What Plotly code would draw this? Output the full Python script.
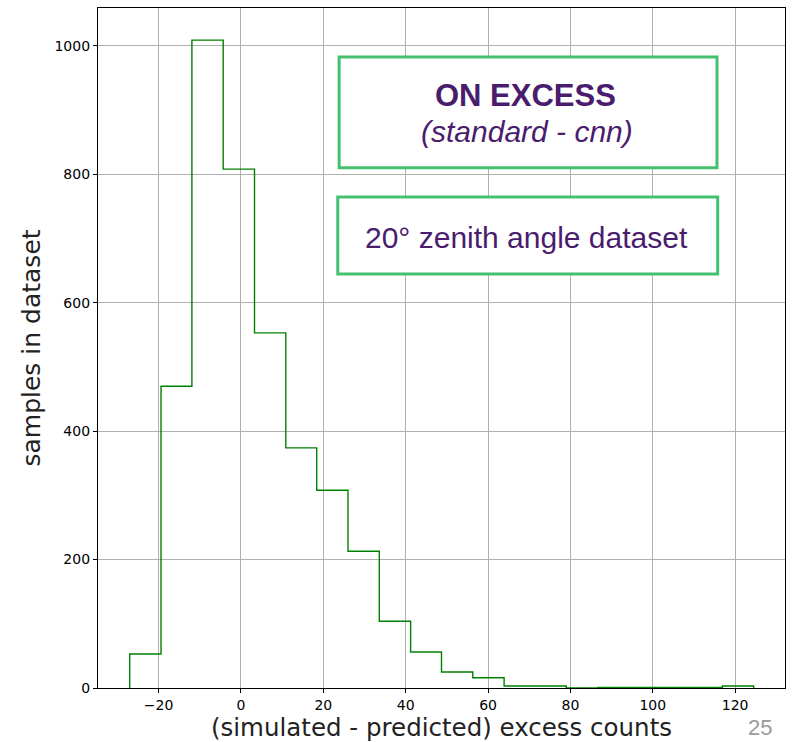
import plotly.graph_objects as go

# Histogram data (bin edges and counts)
bin_edges = [-27.0, -19.4, -11.9, -4.3, 3.3, 10.9, 18.4, 26.0, 33.6, 41.2,
             48.7, 56.3, 63.9, 71.5, 79.0, 86.6, 94.2, 101.8, 109.3, 116.9, 124.5]
counts = [53, 470, 1009, 808, 553, 374, 308, 213, 104, 56,
          25, 16, 3, 3, 0, 1, 1, 1, 1, 3]

x_ticks = [-20, 0, 20, 40, 60, 80, 100, 120]
y_ticks = [0, 200, 400, 600, 800, 1000]

xs = [bin_edges[0]] + bin_edges
ys = [0] + counts + [0]

fig = go.Figure()
fig.add_trace(go.Scatter(
    x=xs, y=ys, mode="lines", line_shape="hv",
    line=dict(color="#008000", width=1.4), showlegend=False, hoverinfo="skip"))

axis_common = dict(
    showline=True, linecolor="black", linewidth=1.2, mirror=True,
    ticks="outside", ticklen=4, tickwidth=1, tickcolor="black",
    showgrid=True, gridcolor="#b0b0b0", gridwidth=1, zeroline=False,
    tickfont=dict(family="DejaVu Sans", size=14, color="black"),
)

fig.update_layout(
    width=792, height=742,
    margin=dict(l=98, r=7, t=8, b=54),
    paper_bgcolor="white", plot_bgcolor="white",
    xaxis=dict(range=[-34.7, 132.1], tickvals=x_ticks, **axis_common,
               title=dict(text="(simulated - predicted) excess counts",
                          font=dict(family="DejaVu Sans", size=24.5, color="#222222"),
                          standoff=4)),
    yaxis=dict(range=[0, 1059], tickvals=y_ticks, **axis_common,
               title=dict(text="samples in dataset",
                          font=dict(family="DejaVu Sans", size=25, color="#222222"),
                          standoff=6)),
)

box_green = "#45c06f"
purple = "#4a1c6e"
fig.add_shape(type="rect", xref="paper", yref="paper",
              x0=0.351, x1=0.901, y0=0.765, y1=0.928,
              line=dict(color=box_green, width=3), fillcolor="white", layer="above")
fig.add_shape(type="rect", xref="paper", yref="paper",
              x0=0.349, x1=0.902, y0=0.609, y1=0.722,
              line=dict(color=box_green, width=3), fillcolor="white", layer="above")

fig.add_annotation(xref="paper", yref="paper", x=0.622, y=0.872,
                   xanchor="center", yanchor="middle",
                   text="<b>ON EXCESS</b>", showarrow=False,
                   font=dict(family="Liberation Sans", size=31, color=purple))
fig.add_annotation(xref="paper", yref="paper", x=0.624, y=0.818,
                   xanchor="center", yanchor="middle",
                   text="<i>(standard - cnn)</i>", showarrow=False,
                   font=dict(family="Liberation Sans", size=30, color=purple))
fig.add_annotation(xref="paper", yref="paper", x=0.624, y=0.663,
                   xanchor="center", yanchor="middle",
                   text="20° zenith angle dataset", showarrow=False,
                   font=dict(family="Liberation Sans", size=30, color=purple))
fig.add_annotation(xref="paper", yref="paper", x=0.963, y=-0.0794,
                   xanchor="center", yanchor="bottom",
                   text="25", showarrow=False,
                   font=dict(family="Liberation Sans", size=22, color="#9a9a9a"))

fig.write_html("out.html")
